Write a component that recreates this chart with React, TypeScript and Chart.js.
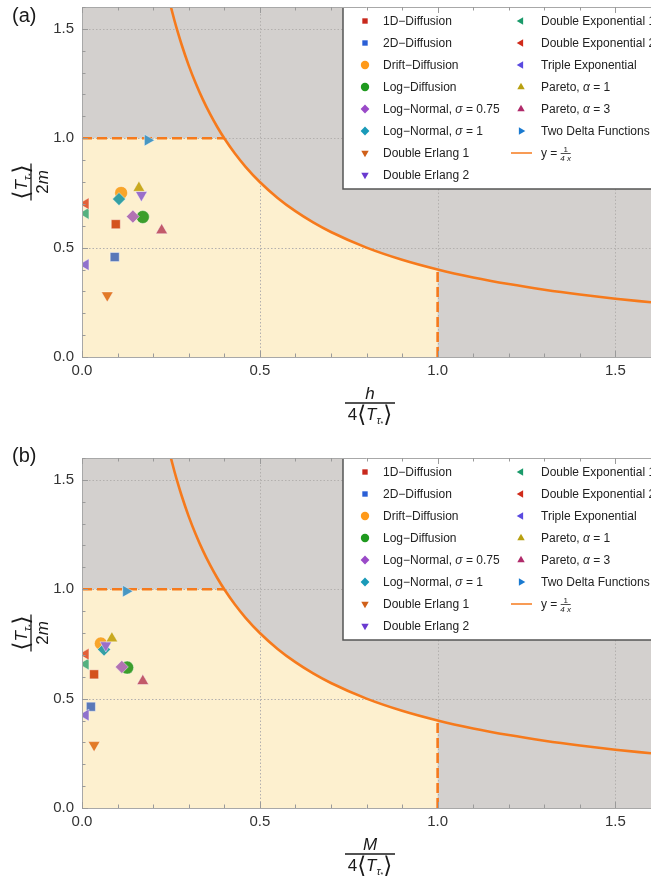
import React, { useEffect, useRef } from "react";
import { Chart, registerables } from "chart.js";

Chart.register(...registerables);

// ---------- data ----------
const SERIES = [
  "1D−Diffusion",
  "2D−Diffusion",
  "Drift−Diffusion",
  "Log−Diffusion",
  "Log−Normal, σ = 0.75",
  "Log−Normal, σ = 1",
  "Double Erlang 1",
  "Double Erlang 2",
  "Double Exponential 1",
  "Double Exponential 2",
  "Triple Exponential",
  "Pareto, α = 1",
  "Pareto, α = 3",
  "Two Delta Functions",
];
const MARKERS = ["rect", "rect", "circle", "circle", "rectRot", "rectRot", "triangle", "triangle", "triangle", "triangle", "triangle", "triangle", "triangle", "triangle"];
const ROTATIONS = [0, 0, 0, 0, 0, 0, 180, 180, 270, 270, 270, 0, 0, 90];
const POINT_COLORS = ["#d4521e", "#5a78b8", "#f8a52a", "#3c9e2c", "#b272b2", "#34a0a4", "#e27a28", "#9a6fca", "#55b07f", "#e2603a", "#9072cc", "#c9a91f", "#c25a6a", "#4897c2"];
const LEGEND_COLORS = ["#c8281c", "#2a5fd6", "#ff9a1a", "#1f9a1f", "#9a4ac8", "#1a9ab8", "#d0601a", "#6a3ad0", "#1a9a6a", "#d02a1a", "#5a4ae0", "#b8a010", "#b02a6a", "#1a7ad0"];

// panel (a): h / 4<T>
const A_X = [0.095, 0.092, 0.11, 0.171, 0.143, 0.104, 0.071, 0.167, 0.01, 0.01, 0.01, 0.16, 0.224, 0.185];
const A_Y = [0.607, 0.457, 0.75, 0.64, 0.642, 0.722, 0.282, 0.741, 0.656, 0.701, 0.422, 0.773, 0.579, 0.991];
// panel (b): M / 4<T>
const B_X = [0.034, 0.025, 0.053, 0.127, 0.112, 0.062, 0.034, 0.067, 0.01, 0.01, 0.01, 0.084, 0.171, 0.124];
const B_Y = [0.611, 0.463, 0.752, 0.642, 0.645, 0.725, 0.288, 0.744, 0.658, 0.703, 0.425, 0.775, 0.58, 0.991];

const AXIS_TICKS = [0, 0.5, 1.0, 1.5];
const AXIS_MIN = 0;
const AXIS_MAX = 1.6;
const MINOR_COUNT = 16; // minor ticks every 0.1
const BOUND_K = 0.4; // boundary curve drawn in the figure
const CURVE_X = [0.25, 0.26, 0.27, 0.28, 0.3, 0.32, 0.34, 0.36, 0.38, 0.4, 0.43, 0.46, 0.5, 0.55, 0.6, 0.65, 0.7, 0.8, 0.9, 1.0, 1.1, 1.2, 1.3, 1.4, 1.5, 1.6];
const CURVE_LABEL = "y = ";

// ---------- style ----------
const FONT = "'Liberation Sans', Arial, sans-serif";
const W = 651;
const H = 440;
const GRAY = "#d3d0ce";
const YELLOW = "#fdf0cf";
const ORANGE = "#f67a1c";

function drawMarker(ctx: CanvasRenderingContext2D, style: string, rot: number, x: number, y: number, r: number) {
  ctx.beginPath();
  if (style === "circle") ctx.arc(x, y, r, 0, Math.PI * 2);
  else if (style === "rect") {
    const s = r * Math.SQRT1_2;
    ctx.rect(x - s, y - s, 2 * s, 2 * s);
  } else if (style === "rectRot") {
    ctx.moveTo(x, y - r);
    ctx.lineTo(x + r, y);
    ctx.lineTo(x, y + r);
    ctx.lineTo(x - r, y);
    ctx.closePath();
  } else {
    let a = (rot * Math.PI) / 180;
    ctx.moveTo(x + Math.sin(a) * r, y - Math.cos(a) * r);
    for (let k = 0; k < 2; k++) {
      a += (2 * Math.PI) / 3;
      ctx.lineTo(x + Math.sin(a) * r, y - Math.cos(a) * r);
    }
    ctx.closePath();
  }
  ctx.fill();
}

function drawRich(ctx: CanvasRenderingContext2D, text: string, x: number, y: number, size: number) {
  const parts = text.split(/([σα])/);
  let cx = x;
  for (const p of parts) {
    if (!p) continue;
    const it = p === "σ" || p === "α";
    ctx.font = `${it ? "italic " : ""}${size}px ${FONT}`;
    ctx.fillText(p, cx, y);
    cx += ctx.measureText(p).width;
  }
  return cx;
}

type Run = { t: string; f: string; dy?: number };
function runsWidth(ctx: CanvasRenderingContext2D, runs: Run[]) {
  let w = 0;
  for (const r of runs) {
    ctx.font = r.f;
    w += ctx.measureText(r.t).width;
  }
  return w;
}
function drawRuns(ctx: CanvasRenderingContext2D, runs: Run[], cx: number, baseline: number) {
  let x = cx - runsWidth(ctx, runs) / 2;
  for (const r of runs) {
    ctx.font = r.f;
    ctx.fillText(r.t, x, baseline + (r.dy || 0));
    x += ctx.measureText(r.t).width;
  }
}
function bracketRuns(prefix: Run[], size: number): Run[] {
  return [
    ...prefix,
    { t: "⟨", f: `${size + 6}px 'DejaVu Sans'`, dy: 2 },
    { t: "T", f: `italic ${size}px ${FONT}` },
    { t: "τ", f: `italic ${size - 6}px ${FONT}`, dy: 4 },
    { t: "*", f: `${size - 10}px ${FONT}`, dy: 6 },
    { t: "⟩", f: `${size + 6}px 'DejaVu Sans'`, dy: 2 },
  ];
}
function drawFraction(ctx: CanvasRenderingContext2D, cx: number, cy: number, num: Run[], den: Run[], bar: number, size: number) {
  ctx.fillStyle = "#1a1a1a";
  ctx.textBaseline = "alphabetic";
  ctx.textAlign = "left";
  drawRuns(ctx, num, cx, cy - 4);
  drawRuns(ctx, den, cx, cy + 4 + size * 0.74);
  ctx.strokeStyle = "#1a1a1a";
  ctx.lineWidth = 1.3;
  ctx.beginPath();
  ctx.moveTo(cx - bar / 2, cy);
  ctx.lineTo(cx + bar / 2, cy);
  ctx.stroke();
}

function decorPlugin(numerator: string, panel: string) {
  return {
    id: "decor",
    beforeDatasetsDraw(chart: any) {
      const { ctx, chartArea: a, scales } = chart;
      const x = scales.x, y = scales.y;
      ctx.save();
      ctx.fillStyle = GRAY;
      ctx.fillRect(a.left, a.top, a.right - a.left, a.bottom - a.top);
      ctx.fillStyle = YELLOW;
      ctx.beginPath();
      ctx.moveTo(x.getPixelForValue(0), y.getPixelForValue(0));
      ctx.lineTo(x.getPixelForValue(0), y.getPixelForValue(1));
      ctx.lineTo(x.getPixelForValue(BOUND_K), y.getPixelForValue(1));
      for (const cxv of CURVE_X) {
        if (cxv > BOUND_K && cxv < 1) ctx.lineTo(x.getPixelForValue(cxv), y.getPixelForValue(BOUND_K / cxv));
      }
      ctx.lineTo(x.getPixelForValue(1), y.getPixelForValue(BOUND_K));
      ctx.lineTo(x.getPixelForValue(1), y.getPixelForValue(0));
      ctx.closePath();
      ctx.fill();
      // dotted grid
      ctx.strokeStyle = "#b3b0ae";
      ctx.lineWidth = 1;
      ctx.setLineDash([1.5, 2]);
      for (const v of AXIS_TICKS) {
        if (v === 0) continue;
        const px = Math.round(x.getPixelForValue(v)) + 0.5;
        ctx.beginPath();
        ctx.moveTo(px, a.top);
        ctx.lineTo(px, a.bottom);
        ctx.stroke();
        const py = Math.round(y.getPixelForValue(v)) + 0.5;
        ctx.beginPath();
        ctx.moveTo(a.left, py);
        ctx.lineTo(a.right, py);
        ctx.stroke();
      }
      ctx.restore();
    },
    afterDatasetsDraw(chart: any) {
      const { ctx, chartArea: a, scales } = chart;
      const x = scales.x, y = scales.y;
      ctx.save();
      // legend box
      const lx = 343;
      const lb = a.top + 182;
      ctx.fillStyle = "#ffffff";
      ctx.fillRect(lx, a.top, W - lx, lb - a.top);
      ctx.strokeStyle = "#555555";
      ctx.lineWidth = 1.5;
      ctx.beginPath();
      ctx.moveTo(lx, a.top);
      ctx.lineTo(lx, lb);
      ctx.lineTo(W, lb);
      ctx.stroke();
      ctx.textBaseline = "middle";
      ctx.textAlign = "left";
      const legendSize: Record<string, number> = { rect: 3.8, circle: 4.2, rectRot: 4.4, triangle: 4.3 };
      SERIES.forEach((name, i) => {
        const col = i < 8 ? 0 : 1;
        const row = i < 8 ? i : i - 8;
        const ry = a.top + 14 + 22 * row;
        const mx = col === 0 ? 365 : 521;
        const tx = col === 0 ? 383 : 541;
        ctx.fillStyle = LEGEND_COLORS[i];
        drawMarker(ctx, MARKERS[i], ROTATIONS[i], mx, ry, legendSize[MARKERS[i]]);
        ctx.fillStyle = "#222222";
        drawRich(ctx, name, tx, ry + 0.5, 12);
      });
      // curve legend entry
      const cy = a.top + 14 + 22 * 6;
      ctx.strokeStyle = ORANGE;
      ctx.lineWidth = 1.5;
      ctx.beginPath();
      ctx.moveTo(511, cy);
      ctx.lineTo(532, cy);
      ctx.stroke();
      ctx.fillStyle = "#222222";
      const ex = drawRich(ctx, CURVE_LABEL, 541, cy + 0.5, 12);
      ctx.font = `8px ${FONT}`;
      ctx.textAlign = "center";
      ctx.textBaseline = "alphabetic";
      ctx.fillText("1", ex + 5, cy - 1);
      ctx.font = `italic 8px ${FONT}`;
      ctx.fillText("4 x", ex + 5, cy + 8);
      ctx.strokeStyle = "#222";
      ctx.lineWidth = 0.8;
      ctx.beginPath();
      ctx.moveTo(ex, cy + 0.5);
      ctx.lineTo(ex + 10, cy + 0.5);
      ctx.stroke();

      // frame
      ctx.strokeStyle = "#a8a8a8";
      ctx.lineWidth = 1;
      ctx.beginPath();
      ctx.moveTo(a.left + 0.5, a.top + 0.5);
      ctx.lineTo(a.left + 0.5, a.bottom + 0.5);
      ctx.lineTo(a.right, a.bottom + 0.5);
      ctx.moveTo(a.left, a.top + 0.5);
      ctx.lineTo(a.right, a.top + 0.5);
      ctx.stroke();
      // inward ticks
      ctx.strokeStyle = "#9a9a9a";
      ctx.beginPath();
      for (let k = 0; k <= MINOR_COUNT; k++) {
        const v = (k * (AXIS_MAX - AXIS_MIN)) / MINOR_COUNT;
        const major = k % 5 === 0;
        const len = major ? 6 : 3.5;
        const px = Math.round(x.getPixelForValue(v)) + 0.5;
        ctx.moveTo(px, a.bottom);
        ctx.lineTo(px, a.bottom - len);
        ctx.moveTo(px, a.top);
        ctx.lineTo(px, a.top + len);
        const py = Math.round(y.getPixelForValue(v)) + 0.5;
        ctx.moveTo(a.left, py);
        ctx.lineTo(a.left + len, py);
      }
      ctx.stroke();
      ctx.restore();
    },
    afterDraw(chart: any) {
      const { ctx, chartArea: a } = chart;
      ctx.save();
      // panel label
      ctx.fillStyle = "#1a1a1a";
      ctx.font = `20px ${FONT}`;
      ctx.textAlign = "left";
      ctx.textBaseline = "alphabetic";
      ctx.fillText(panel, 12, 22);
      // x title
      drawFraction(
        ctx,
        370,
        a.bottom + 46,
        [{ t: numerator, f: `italic 17px ${FONT}` }],
        bracketRuns([{ t: "4", f: `17px ${FONT}` }], 17),
        50,
        17
      );
      // y title (rotated)
      ctx.translate(31, (a.top + a.bottom) / 2);
      ctx.rotate(-Math.PI / 2);
      drawFraction(
        ctx,
        0,
        0,
        bracketRuns([], 17),
        [
          { t: "2", f: `17px ${FONT}` },
          { t: "m", f: `italic 17px ${FONT}` },
        ],
        37,
        17
      );
      ctx.restore();
    },
  };
}

function buildConfig(xs: number[], ys: number[], top: number, numerator: string, panel: string): any {
  const pointSets = SERIES.map((name, i) => ({
    label: name,
    data: [{ x: xs[i], y: ys[i] }],
    pointStyle: MARKERS[i],
    pointRotation: ROTATIONS[i],
    pointRadius: MARKERS[i] === "triangle" ? 6.8 : MARKERS[i] === "rect" ? 6.4 : 6.5,
    backgroundColor: POINT_COLORS[i],
    borderColor: "rgba(255,255,255,0.55)",
    borderWidth: 0.8,
    showLine: false,
    order: 100 - i,
  }));
  const curve = {
    label: "boundary",
    data: CURVE_X.map((v) => ({ x: v, y: BOUND_K / v })),
    showLine: true,
    pointRadius: 0,
    borderColor: ORANGE,
    borderWidth: 2.6,
    cubicInterpolationMode: "monotone",
    order: 200,
  };
  const hDash = {
    label: "h-dash",
    data: [
      { x: 0, y: 1 },
      { x: BOUND_K, y: 1 },
    ],
    showLine: true,
    pointRadius: 0,
    borderColor: ORANGE,
    borderWidth: 2.6,
    borderDash: [10, 5],
    order: 201,
  };
  const vDash = {
    label: "v-dash",
    data: [
      { x: 1, y: 0 },
      { x: 1, y: BOUND_K },
    ],
    showLine: true,
    pointRadius: 0,
    borderColor: ORANGE,
    borderWidth: 2.6,
    borderDash: [10, 5],
    order: 202,
  };
  const tickFont = { family: FONT, size: 15 };
  const bottomSpace = H - (top + 350);
  return {
    type: "scatter",
    data: { datasets: [...pointSets, curve, hDash, vDash] },
    options: {
      animation: false,
      responsive: false,
      devicePixelRatio: 1,
      events: [],
      layout: { autoPadding: false, padding: { top, left: 0, right: 0, bottom: 0 } },
      plugins: { legend: { display: false }, tooltip: { enabled: false } },
      scales: {
        x: {
          type: "linear",
          min: AXIS_MIN,
          max: AXIS_MAX,
          afterBuildTicks: (s: any) => {
            s.ticks = AXIS_TICKS.map((v) => ({ value: v }));
          },
          afterFit: (s: any) => {
            s.height = bottomSpace;
            s.paddingLeft = 0;
            s.paddingRight = 0;
          },
          grid: { display: false, drawTicks: false },
          border: { display: false },
          ticks: {
            autoSkip: false,
            maxRotation: 0,
            padding: 5,
            color: "#333333",
            font: tickFont,
            callback: (v: any) => Number(v).toFixed(1),
          },
        },
        y: {
          type: "linear",
          min: AXIS_MIN,
          max: AXIS_MAX,
          afterBuildTicks: (s: any) => {
            s.ticks = AXIS_TICKS.map((v) => ({ value: v }));
          },
          afterFit: (s: any) => {
            s.width = 82;
            s.paddingTop = 0;
            s.paddingBottom = 0;
          },
          grid: { display: false, drawTicks: false },
          border: { display: false },
          ticks: {
            autoSkip: false,
            padding: 8,
            color: "#333333",
            font: tickFont,
            callback: (v: any) => Number(v).toFixed(1),
          },
        },
      },
    },
    plugins: [decorPlugin(numerator, panel)],
  };
}

function Panel(props: { xs: number[]; ys: number[]; top: number; numerator: string; panel: string }) {
  const ref = useRef<HTMLCanvasElement>(null);
  useEffect(() => {
    const chart = new Chart(ref.current as HTMLCanvasElement, buildConfig(props.xs, props.ys, props.top, props.numerator, props.panel));
    return () => chart.destroy();
  }, []);
  return <canvas ref={ref} width={W} height={H} style={{ display: "block", width: W, height: H }} />;
}

export default function App() {
  return (
    <div style={{ position: "absolute", left: 0, top: 0, width: W, height: 880, background: "#ffffff", overflow: "hidden" }}>
      <Panel xs={A_X} ys={A_Y} top={7} numerator="h" panel="(a)" />
      <Panel xs={B_X} ys={B_Y} top={18} numerator="M" panel="(b)" />
    </div>
  );
}
